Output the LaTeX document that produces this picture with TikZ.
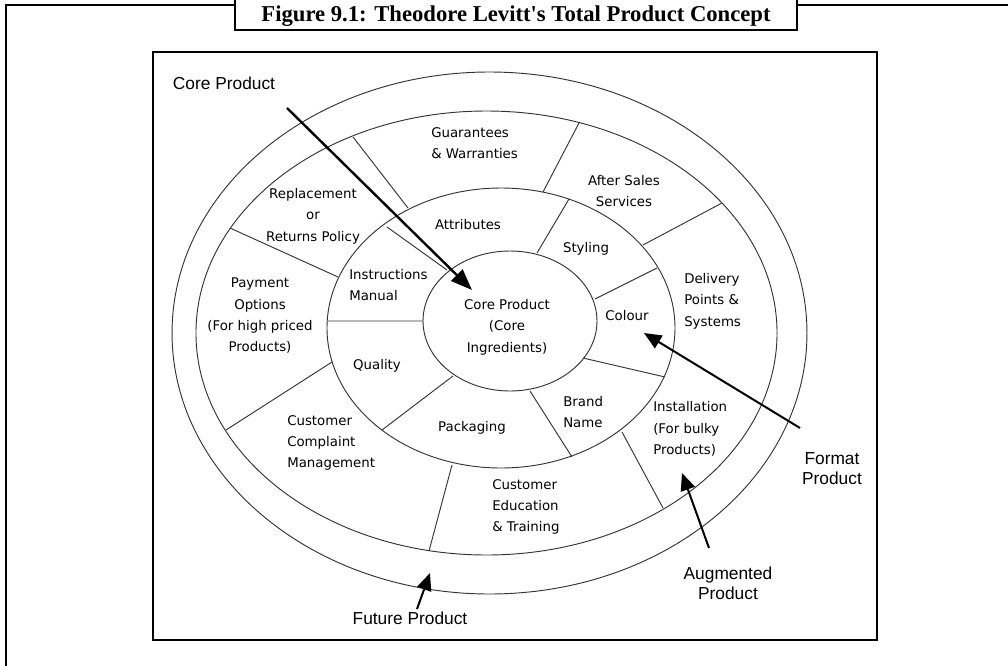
\documentclass[tikz,border=0pt]{standalone}
\usepackage{fontspec}
\setmainfont{DejaVu Sans}
\newfontfamily\callfont{Liberation Sans}
\newfontfamily\titlefont{Liberation Serif}
\usetikzlibrary{arrows.meta}

\tikzset{
  ring/.style={draw=black!80, line width=0.7pt},
  part/.style={font=\fontsize{10}{16}\selectfont, inner sep=0pt},
  callout/.style={font=\callfont\fontsize{13}{15}\selectfont, align=center, inner sep=0pt},
  pointer/.style={-{Triangle[length=13pt,width=11pt]}, line width=1.5pt},
}

\begin{document}
\begin{tikzpicture}[x=0.75pt, y=-0.75pt]
    \useasboundingbox (0,0) rectangle (1008,665);
    \clip (0,0) rectangle (1008,665);

    % Frame and title
    \draw[line width=2pt] (1020,5) -- (6,5) -- (6,680);
    \draw[line width=2.2pt, fill=white] (235,-10) rectangle (797,30);
    \node[anchor=base, inner sep=0pt, font=\titlefont\bfseries\fontsize{17}{20}\selectfont]
        (title) at (516,21) {Figure 9.1: Theodore Levitt's Total Product Concept};
    \draw[line width=1.5pt] (153,52) rectangle (877,640);

    % Rings of the product
    \draw[ring] (489.5,333) ellipse [x radius=238.1pt, y radius=195.75pt];
    \draw[ring] (486.5,333) ellipse [x radius=217.9pt, y radius=166.5pt];
    \draw[ring] (501,328) ellipse [x radius=130.5pt, y radius=105pt];
    \draw[ring] (510,321) ellipse [x radius=65.25pt, y radius=52.5pt];

    % Augmented ring dividers
    \draw[ring] (353,137) -- (408,208)
                (230,228) -- (338,277)
                (579,123) -- (543,192)
                (722,203) -- (643,245)
                (622,432) -- (663,508)
                (452,465) -- (429,551)
                (332,362) -- (226,430);

    % Actual ring dividers
    \draw[ring] (387,227) -- (447,270)
                (569,199) -- (537,253)
                (657,268) -- (595,299)
                (583,358) -- (665,377)
                (530,391) -- (572,457)
                (453,376) -- (382,430)
                (328,321) -- (423,321);

    % Parts of the product
    \node[part] (core) at (507,327) [align=center] {Core Product\\(Core\\Ingredients)};
    \node[part] (attributes) at (468,225) {Attributes};
    \node[part] (styling) at (586,249) {Styling};
    \node[part] (colour) at (627,316) {Colour};
    \node[part, anchor=west] (brand) at (563,412) [align=left] {Brand\\Name};
    \node[part] (packaging) at (472,428) {Packaging};
    \node[part] (quality) at (377,366) {Quality};
    \node[part, anchor=west] (manual) at (349,285) [align=left] {Instructions\\Manual};

    \node[part, anchor=west] (guarantees) at (431,143) [align=left] {Guarantees\\\& Warranties};
    \node[part] (aftersales) at (624,191) [align=center] {After Sales\\Services};
    \node[part, anchor=west] (delivery) at (684,301) [align=left] {Delivery\\Points \&\\Systems};
    \node[part, anchor=west] (install) at (653,429) [align=left] {Installation\\(For bulky\\Products)};
    \node[part, anchor=west] (education) at (492,507) [align=left] {Customer\\Education\\\& Training};
    \node[part, anchor=west] (complaint) at (287,443) [align=left] {Customer\\Complaint\\Management};
    \node[part] (payment) at (260,316) [align=center] {Payment\\Options\\(For high priced\\Products)};
    \node[part] (replace) at (313,216) [align=center] {Replacement\\or\\Returns Policy};

    % Level labels and their pointers
    \node[callout] (corelbl) at (224,83) {Core Product};
    \node[callout] (formatlbl) at (832,469) {Format\\Product};
    \node[callout] (auglbl) at (728,583) {Augmented\\Product};
    \node[callout] (futlbl) at (410,618) {Future Product};

    \coordinate (corefrom) at (287,108);
    \coordinate (coreto) at (472,290);
    \coordinate (formatfrom) at (800,428);
    \coordinate (formatto) at (644,333);
    \coordinate (augfrom) at (709,548);
    \coordinate (augto) at (682,473);
    \coordinate (futfrom) at (417,609);
    \coordinate (futto) at (430,573);

    \path[pointer]
    (corefrom) edge [-{Triangle[length=16pt,width=12pt]}, line width=1.8pt] (coreto)
    (formatfrom) edge (formatto)
    (augfrom) edge (augto)
    (futfrom) edge (futto);
\end{tikzpicture}
\end{document}
